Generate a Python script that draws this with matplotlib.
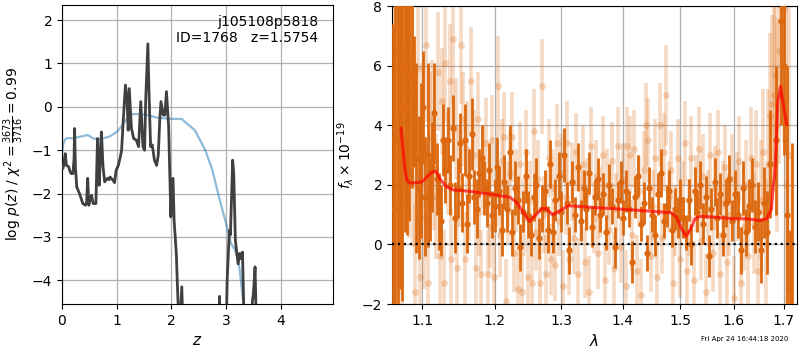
import matplotlib
matplotlib.use("Agg")
import matplotlib.pyplot as plt
from matplotlib.ticker import NullLocator, FixedLocator, FixedFormatter

# ---- redshift probability ----
pz_z = [0.00, 0.02, 0.04, 0.06, 0.08, 0.12, 0.15, 0.17, 0.20, 0.22, 0.23, 0.245,
        0.27, 0.32, 0.38, 0.43, 0.45, 0.47, 0.49, 0.52, 0.54, 0.57, 0.62, 0.64,
        0.65, 0.67, 0.68, 0.70, 0.72, 0.74, 0.75, 0.78, 0.83, 0.86, 0.88, 0.93,
        0.96, 0.99, 1.03, 1.06, 1.09, 1.12, 1.16, 1.19, 1.21, 1.23, 1.27, 1.31,
        1.36, 1.40, 1.44, 1.48, 1.51, 1.53, 1.57, 1.59, 1.62, 1.65, 1.69, 1.73,
        1.76, 1.79, 1.81, 1.85, 1.88, 1.91, 1.95, 1.99, 2.01, 2.03, 2.05, 2.09,
        2.12, 2.15, 2.19, 2.21, 2.25, 2.86, 2.88, 2.90, 2.99, 3.02, 3.06, 3.08,
        3.12, 3.14, 3.17, 3.19, 3.22, 3.25, 3.27, 3.30, 3.33, 3.47, 3.48, 3.50,
        3.53, 3.56, 3.60]
pz_log = [-1.40, -1.42, -1.25, -1.08, -1.35, -1.38, -1.50, -1.54, -1.54, -1.20, -0.50, -1.38,
          -1.85, -2.00, -2.23, -2.27, -2.20, -1.65, -2.27, -2.10, -2.04, -2.23, -2.23, -1.20,
          -0.73, -1.40, -1.81, -1.20, -0.58, -1.10, -1.38, -1.73, -1.65, -1.68, -1.62, -1.69,
          -1.75, -1.46, -1.35, -1.19, -1.00, -0.31, 0.50, 0.15, -0.54, 0.42, -0.50, -0.73,
          -0.77, -0.92, 0.12, -0.92, -1.00, 0.15, 1.45, 0.38, -0.92, -0.88, -1.23, -1.35,
          -1.12, -0.23, 0.12, -0.19, -0.19, 0.35, -0.46, -2.54, -1.69, -1.65, -2.62, -3.38,
          -4.46, -5.20, -4.15, -5.00, -6.50, -6.00, -4.37, -6.00, -6.00, -4.00, -2.85, -2.95,
          -1.23, -1.54, -3.08, -3.30, -3.62, -3.38, -3.50, -3.35, -5.00, -5.00, -4.50, -4.30,
          -3.69, -5.50, -7.00]

prior_z = [0.00, 0.025, 0.06, 0.10, 0.20, 0.32, 0.475, 0.57, 0.69, 0.80, 0.88, 1.00,
           1.09, 1.19, 1.28, 1.40, 1.56, 1.74, 1.99, 2.19, 2.25, 2.43, 2.62, 2.75,
           2.87, 3.00, 3.09, 3.15, 3.21, 3.25, 3.29, 3.32, 3.35]
prior_log = [-1.08, -0.85, -0.75, -0.72, -0.73, -0.69, -0.65, -0.73, -0.75, -0.71, -0.68, -0.58,
             -0.45, -0.27, -0.17, -0.17, -0.19, -0.25, -0.28, -0.28, -0.35, -0.54, -1.00, -1.46,
             -2.08, -2.69, -3.15, -3.27, -3.46, -3.77, -4.23, -4.60, -5.50]

# ---- spectrum (combined) ----
sp_wave = [1.062, 1.065, 1.068, 1.071, 1.074, 1.077, 1.080, 1.083, 1.086, 1.089, 1.092, 1.095,
           1.098, 1.101, 1.104, 1.107, 1.110, 1.113, 1.116, 1.119, 1.122, 1.125, 1.128, 1.131,
           1.134, 1.137, 1.141, 1.144, 1.148, 1.151, 1.154, 1.158, 1.161, 1.164, 1.168, 1.171,
           1.175, 1.178, 1.182, 1.185, 1.189, 1.192, 1.196, 1.200, 1.203, 1.207, 1.211, 1.214,
           1.218, 1.222, 1.226, 1.230, 1.234, 1.238, 1.242, 1.246, 1.250, 1.254, 1.258, 1.262,
           1.266, 1.270, 1.275, 1.279, 1.283, 1.287, 1.291, 1.296, 1.300, 1.304, 1.309, 1.313,
           1.318, 1.322, 1.327, 1.331, 1.336, 1.340, 1.345, 1.349, 1.354, 1.359, 1.363, 1.368,
           1.373, 1.377, 1.382, 1.387, 1.392, 1.397, 1.401, 1.406, 1.411, 1.416, 1.421, 1.426,
           1.431, 1.436, 1.441, 1.446, 1.451, 1.456, 1.461, 1.466, 1.471, 1.476, 1.481, 1.486,
           1.491, 1.496, 1.501, 1.506, 1.511, 1.516, 1.521, 1.527, 1.532, 1.537, 1.542, 1.548,
           1.553, 1.558, 1.564, 1.569, 1.575, 1.580, 1.586, 1.591, 1.597, 1.602, 1.608, 1.614,
           1.619, 1.625, 1.631, 1.636, 1.642, 1.648, 1.654, 1.660, 1.666, 1.672, 1.684, 1.694,
           1.700, 1.706, 1.712, 1.716]
sp_flux = [1.2, 3.5, 2.0, 6.0, 4.6, 5.9, 5.1, 5.0, 5.7, 4.8, 2.9, 1.9,
           2.8, 4.6, 1.6, 3.0, 1.5, 2.6, 4.4, 2.2, 1.1, 0.8, 3.5, 2.5,
           3.5, 2.0, 3.9, 0.9, 1.9, 3.4, 1.4, 3.5, 0.7, 2.3, 3.7, 1.6,
           1.2, 2.4, 2.9, 1.9, 1.4, 2.5, 1.0, 1.3, 2.6, 1.8, 0.5, 2.1,
           1.2, 3.1, 0.4, 1.9, 1.5, -0.1, 1.1, 2.3, 1.0, 0.3, 1.6, 2.0,
           0.2, 1.2, 1.8, 0.5, 2.7, 0.4, 1.5, 2.3, 1.1, 3.0, 1.4, -0.2,
           2.1, 1.0, 2.6, 0.8, 1.9, 1.2, 2.4, 0.6, 1.6, 2.2, 1.0, 1.7,
           0.4, 2.0, 1.3, -0.1, 1.5, 2.1, 0.9, 1.8, 1.2, -0.6, 1.6, 2.3,
           0.7, 1.4, -0.3, 1.9, 1.0, 0.3, 1.7, 2.4, 0.8, 1.3, 1.8, 0.5,
           1.2, 0.9, 1.5, 0.9, 0.4, 1.5, 0.0, 1.8, 1.1, 2.0, 0.7, 1.6,
           -0.4, 1.2, 2.1, 0.9, 1.7, 0.3, 1.4, 2.2, 0.8, 1.7, 1.0, -0.2,
           1.9, 0.4, 1.3, 2.0, 0.6, 1.1, -0.2, 1.4, 0.4, 2.7, 3.5, 7.5,
           6.0, 1.0, -1.5, -2.6]
sp_err = [6.2, 9.0, 8.0, 7.5, 6.5, 5.5, 4.8, 4.2, 3.8, 2.2, 3.2, 2.4,
          2.6, 1.9, 2.0, 3.1, 1.4, 1.5, 1.7, 1.2, 1.3, 1.2, 1.2, 1.1,
          1.1, 1.0, 1.1, 1.2, 1.0, 1.0, 1.0, 1.2, 1.0, 0.9, 1.2, 0.9,
          1.0, 0.8, 1.1, 0.9, 0.8, 0.9, 0.8, 0.9, 1.0, 0.8, 0.9, 0.9,
          0.8, 0.9, 0.8, 0.9, 0.8, 0.8, 0.7, 0.9, 0.8, 0.7, 0.8, 0.9,
          0.7, 0.8, 0.7, 0.8, 0.8, 0.7, 0.7, 0.8, 0.7, 0.9, 0.7, 0.8,
          0.7, 0.6, 0.8, 0.7, 0.6, 0.7, 0.7, 0.7, 0.6, 0.7, 0.6, 0.7,
          0.6, 0.7, 0.6, 0.7, 0.6, 0.7, 0.6, 0.7, 0.6, 0.7, 0.7, 0.7,
          0.6, 0.7, 0.6, 0.7, 0.6, 0.7, 0.7, 0.8, 0.6, 0.7, 0.7, 0.6,
          0.7, 0.7, 0.7, 0.7, 0.6, 0.7, 0.7, 0.8, 0.7, 0.8, 0.7, 0.7,
          0.7, 0.7, 0.8, 0.7, 0.7, 0.7, 0.8, 0.8, 0.7, 0.8, 0.8, 0.8,
          0.9, 0.8, 0.9, 0.9, 0.9, 1.0, 1.1, 1.2, 1.4, 1.8, 2.5, 3.5,
          3.0, 5.0, 2.0, 6.0]

# ---- spectrum (individual exposures) ----
ex_wave = [1.063, 1.067, 1.070, 1.073, 1.076, 1.079, 1.082, 1.085, 1.088, 1.091, 1.094, 1.097,
           1.099, 1.102, 1.105, 1.108, 1.110, 1.113, 1.116, 1.118, 1.121, 1.124, 1.126, 1.129,
           1.131, 1.134, 1.137, 1.139, 1.142, 1.145, 1.147, 1.150, 1.153, 1.155, 1.158, 1.161,
           1.164, 1.167, 1.170, 1.173, 1.176, 1.178, 1.181, 1.184, 1.187, 1.190, 1.193, 1.196,
           1.199, 1.202, 1.205, 1.208, 1.211, 1.214, 1.217, 1.220, 1.223, 1.226, 1.229, 1.232,
           1.235, 1.238, 1.241, 1.244, 1.247, 1.250, 1.253, 1.256, 1.259, 1.262, 1.265, 1.268,
           1.271, 1.274, 1.277, 1.281, 1.284, 1.287, 1.290, 1.293, 1.297, 1.300, 1.303, 1.307,
           1.310, 1.313, 1.317, 1.320, 1.324, 1.327, 1.331, 1.334, 1.338, 1.341, 1.345, 1.348,
           1.352, 1.356, 1.359, 1.363, 1.367, 1.370, 1.374, 1.378, 1.382, 1.385, 1.389, 1.393,
           1.397, 1.401, 1.405, 1.408, 1.412, 1.416, 1.420, 1.424, 1.428, 1.432, 1.436, 1.440,
           1.444, 1.448, 1.452, 1.456, 1.460, 1.464, 1.468, 1.472, 1.475, 1.480, 1.484, 1.488,
           1.492, 1.496, 1.500, 1.505, 1.509, 1.513, 1.517, 1.521, 1.526, 1.530, 1.534, 1.539,
           1.543, 1.547, 1.552, 1.556, 1.561, 1.565, 1.570, 1.574, 1.579, 1.583, 1.588, 1.592,
           1.597, 1.601, 1.606, 1.611, 1.615, 1.620, 1.625, 1.629, 1.634, 1.639, 1.644, 1.648,
           1.653, 1.658, 1.663, 1.668, 1.672, 1.676, 1.679, 1.682, 1.686, 1.690, 1.695, 1.700,
           1.705, 1.710]
ex_flux = [3.0, 6.5, 4.2, 1.5, 5.6, 6.4, 4.2, 5.4, 3.1, -1.6, 5.9, -1.1,
           3.6, 0.9, 6.7, -1.3, 3.6, 4.2, 2.5, 1.6, 5.8, -0.4, 4.8, -1.3,
           6.1, 2.7, 5.5, -0.5, 6.9, 3.9, -0.8, 2.2, 6.7, 4.2, -0.5, 3.2,
           1.6, 5.5, 3.0, -0.8, 4.2, 1.1, -1.0, 2.6, 3.4, -1.0, 0.6, 3.5,
           -1.1, 2.0, 5.3, 0.3, 2.8, 3.6, -1.9, 1.4, 2.4, 3.6, -0.3, 1.8,
           -1.5, 2.7, -1.6, 0.9, 3.1, -1.1, 1.5, -1.3, 3.8, 0.4, 2.2, -1.3,
           5.3, 1.0, -1.0, 2.9, -0.5, 1.9, -0.7, 3.4, 0.8, 2.4, -1.4, 1.6,
           3.4, -0.5, 2.1, 0.2, 3.1, -1.0, 1.3, 2.7, -0.6, 1.7, -1.6, 3.3,
           0.9, 2.3, -0.3, 1.4, 3.0, -1.2, 2.0, 0.5, 2.8, -0.8, 1.2, 3.3,
           -0.1, 2.2, -1.4, 3.3, 3.0, 0.3, 3.2, -0.9, 1.8, -1.7, 2.5, 4.0,
           3.5, -0.4, 1.3, 2.9, -1.1, 4.0, 0.2, 3.1, 5.0, 1.6, 2.5, -1.3,
           0.8, 2.9, -0.5, 1.5, 3.4, -0.9, 0.9, 2.9, -1.2, 1.7, 3.2, 0.1,
           2.3, -1.6, 1.2, 3.0, -0.3, 1.9, 3.1, -1.0, 1.4, 2.6, -0.6, 1.0,
           2.2, -1.8, 1.6, 2.8, -1.3, 0.6, 2.0, -0.4, 2.9, 0.7, 2.7, -0.9,
           1.5, 3.1, 0.0, 2.7, 4.3, 4.7, 5.0, 5.7, 4.0, 6.5, 8.0, 7.9,
           2.0, 3.0]
ex_err = [8.0, 6.0, 5.0, 5.5, 4.5, 4.0, 4.0, 3.5, 3.2, 3.0, 3.0, 2.8,
          2.5, 2.4, 2.6, 2.2, 2.2, 2.0, 2.0, 2.1, 2.0, 1.9, 1.8, 1.8,
          2.0, 1.7, 1.9, 1.7, 2.2, 1.7, 1.6, 1.6, 2.0, 1.6, 1.6, 1.6,
          1.5, 1.8, 1.5, 1.5, 1.6, 1.5, 1.5, 1.4, 1.5, 1.5, 1.4, 1.5,
          1.4, 1.4, 1.7, 1.4, 1.4, 1.5, 1.4, 1.4, 1.4, 1.5, 1.3, 1.4,
          1.4, 1.4, 1.3, 1.3, 1.4, 1.3, 1.3, 1.3, 1.4, 1.3, 1.3, 1.3,
          1.6, 1.3, 1.3, 1.3, 1.2, 1.3, 1.2, 1.3, 1.2, 1.3, 1.2, 1.3,
          1.4, 1.2, 1.3, 1.2, 1.3, 1.2, 1.2, 1.3, 1.2, 1.2, 1.2, 1.3,
          1.2, 1.2, 1.2, 1.2, 1.3, 1.2, 1.2, 1.2, 1.3, 1.2, 1.2, 1.3,
          1.2, 1.2, 1.2, 1.3, 1.3, 1.2, 1.3, 1.2, 1.2, 1.2, 1.3, 1.4,
          1.4, 1.2, 1.2, 1.3, 1.2, 1.4, 1.2, 1.3, 1.7, 1.2, 1.3, 1.2,
          1.2, 1.3, 1.3, 1.3, 1.4, 1.3, 1.3, 1.4, 1.3, 1.3, 1.4, 1.3,
          1.4, 1.3, 1.3, 1.4, 1.3, 1.4, 1.4, 1.4, 1.4, 1.4, 1.4, 1.4,
          1.5, 1.4, 1.5, 1.5, 1.5, 1.5, 1.5, 1.6, 1.7, 1.7, 1.8, 1.8,
          2.0, 2.1, 2.2, 2.5, 2.8, 3.0, 3.2, 3.4, 3.6, 3.8, 4.0, 4.5,
          6.0, 7.0]

# ---- best-fit model ----
mod_wave = [1.0722, 1.0748, 1.0773, 1.0799, 1.0838, 1.0917, 1.0996, 1.1076, 1.1143, 1.1183,
            1.1237, 1.1318, 1.1414, 1.1650, 1.1934, 1.2224, 1.2323, 1.2422, 1.2512, 1.2598,
            1.2700, 1.2766, 1.2869, 1.2982, 1.3113, 1.3508, 1.4068, 1.4585, 1.4850, 1.4940,
            1.5030, 1.5108, 1.5194, 1.5273, 1.5365, 1.5677, 1.5993, 1.6253, 1.6515, 1.6649,
            1.6749, 1.6782, 1.6816, 1.6877, 1.6932, 1.6999, 1.7055]
mod_flux = [3.90, 3.20, 2.50, 2.15, 2.06, 2.07, 2.10, 2.30, 2.45, 2.45,
            2.20, 1.95, 1.83, 1.78, 1.69, 1.58, 1.41, 1.08, 0.77, 0.97,
            1.19, 1.21, 0.99, 1.13, 1.30, 1.24, 1.17, 1.10, 1.06, 0.91,
            0.52, 0.27, 0.52, 0.86, 0.94, 0.91, 0.86, 0.86, 0.80, 0.86,
            1.19, 1.97, 2.37, 4.80, 5.30, 4.58, 4.02]

wave_ticks = [1.1, 1.2, 1.3, 1.4, 1.5, 1.6, 1.7]
wave_labels = ['1.1', '1.2', '1.3', '1.4', '1.5', '1.6', '1.7']

orange = '#dc690f'

fig = plt.figure(figsize=(8, 3.5), dpi=100)
ax1 = fig.add_axes([0.0775, 0.1314, 0.33875, 0.8543])
ax2 = fig.add_axes([0.49, 0.1314, 0.50625, 0.8514])

# left: log p(z)
ax1.plot(prior_z, prior_log, color='#1f77b4', alpha=0.5, lw=1.6, zorder=2)
ax1.plot(pz_z, pz_log, color='#404040', lw=2.0, zorder=3)
ax1.set_xlim(0, 4.955)
ax1.set_ylim(-4.546, 2.346)
ax1.set_xticks([0, 1, 2, 3, 4])
ax1.set_yticks([-4, -3, -2, -1, 0, 1, 2])
ax1.grid(True, color='#b0b0b0', lw=0.9)
ax1.set_axisbelow(True)
ax1.set_xlabel('$z$', fontsize=11)
ax1.set_ylabel(r'log $p(z)$ / $\chi^2=\frac{3673}{3716}=0.99$', fontsize=10)
ax1.text(0.945, 0.967, 'j105108p5818\nID=1768   z=1.5754', transform=ax1.transAxes,
         ha='right', va='top', fontsize=10, linespacing=1.15)

# right: spectrum
ax2.errorbar(ex_wave, ex_flux, yerr=ex_err, fmt='o', color=orange, alpha=0.25,
             ms=5, elinewidth=2.6, mew=0, zorder=2)
ax2.errorbar(sp_wave, sp_flux, yerr=sp_err, fmt='o', color=orange,
             ms=4.5, elinewidth=2.0, mew=0, zorder=3)
ax2.plot(mod_wave, mod_flux, color='red', alpha=0.7, lw=2.2, zorder=4)
ax2.axhline(0, color='k', ls=':', lw=1.6, zorder=5)
ax2.set_xscale('log')
ax2.xaxis.set_major_locator(FixedLocator(wave_ticks))
ax2.xaxis.set_major_formatter(FixedFormatter(wave_labels))
ax2.xaxis.set_minor_locator(NullLocator())
ax2.set_xlim(1.0606, 1.727)
ax2.set_ylim(-2, 8)
ax2.set_yticks([-2, 0, 2, 4, 6, 8])
ax2.grid(True, color='#b0b0b0', lw=0.9)
ax2.set_axisbelow(True)
ax2.set_xlabel(r'$\lambda$', fontsize=11)
ax2.set_ylabel(r'$f_\lambda\times10^{-19}$', fontsize=10)

for ax in (ax1, ax2):
    ax.tick_params(labelsize=10)

fig.text(0.985, 0.03, 'Fri Apr 24 16:44:18 2020', ha='right', va='center', fontsize=5)

fig.savefig('out.png', dpi=100)
